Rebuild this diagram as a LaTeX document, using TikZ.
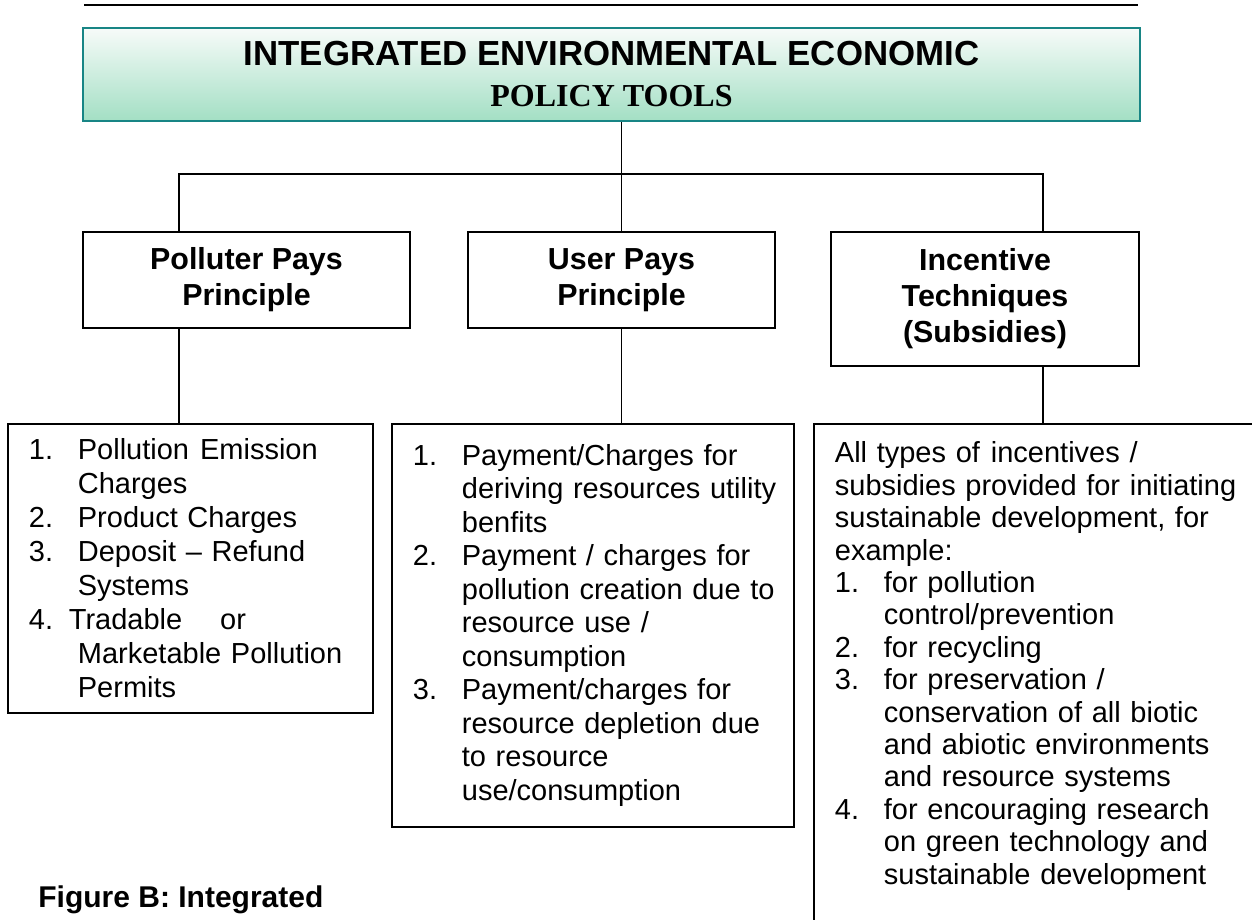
\documentclass[tikz,border=0pt]{standalone}
\usepackage{fontspec}
\setmainfont{Liberation Sans}
\newfontfamily\timesbold{Liberation Serif}
\usepackage{tikz}
\usetikzlibrary{positioning, calc}
\definecolor{MintTop}{RGB}{247, 251, 249}
\definecolor{MintBottom}{RGB}{163, 223, 196}
\definecolor{TealEdge}{RGB}{24, 133, 133}

% one pixel of the page grid
\newlength{\pxl}
\setlength{\pxl}{0.5pt}
% list lines: numbered, continued, plain
\newcommand{\numline}[2]{\hspace*{21\pxl}\makebox[49\pxl][l]{#1}#2}
\newcommand{\contline}[1]{\hspace*{70\pxl}#1}
\newcommand{\textline}[1]{\hspace*{21\pxl}#1}

\begin{document}
\begin{tikzpicture}[x=0.5pt, y=-0.5pt,
    headbox/.style={draw=TealEdge, line width=1.3pt, top color=MintTop, bottom color=MintBottom,
      align=center, minimum width=528.5pt, minimum height=46.5pt,
      font=\bfseries\fontsize{17.4pt}{20.5pt}\selectfont},
    principle/.style={draw, line width=0.9pt, align=center,
      font=\bfseries\fontsize{15.2pt}{18pt}\selectfont},
    toolist/.style={draw, line width=0.9pt, anchor=north west, align=left, inner xsep=0pt},
    link/.style={line width=0.9pt}]
    \useasboundingbox (0,0) rectangle (1252,920);
    \clip (0,0) rectangle (1252,920);

    % Rule above the chart
    \draw[line width=1.1pt] (84,5) -- (1138,5);

    % Title
    \node[headbox] (tools) at (611.5,74.5)
      {INTEGRATED ENVIRONMENTAL ECONOMIC\\{\timesbold\fontsize{16pt}{20.5pt}\selectfont POLICY TOOLS}};

    % Principles
    \node[principle, minimum width=163.5pt, minimum height=48pt] (polluter) at (246.5,280)
      {Polluter Pays\\Principle};
    \node[principle, minimum width=153.5pt, minimum height=48pt] (user) at (621.5,280)
      {User Pays\\Principle};
    \node[principle, minimum width=154pt, minimum height=67pt] (incentive) at (985,299)
      {Incentive\\Techniques\\(Subsidies)};

    % Instruments under each principle
    \node[toolist, text width=182.5pt, minimum height=144.5pt,
      font=\fontsize{14.5pt}{17pt}\selectfont] (pplist) at (7,423)
      {\numline{1.}{Pollution\hspace{11\pxl}Emission}\\
       \contline{Charges}\\
       \numline{2.}{Product Charges}\\
       \numline{3.}{Deposit -- Refund}\\
       \contline{Systems}\\
       \hspace*{21\pxl}\makebox[40\pxl][l]{4.}Tradable\hspace{38\pxl}or\\
       \contline{Marketable Pollution}\\
       \contline{Permits}};
    \node[toolist, text width=201pt, minimum height=201.5pt,
      font=\fontsize{14.5pt}{16.75pt}\selectfont] (uplist) at (391,423)
      {\numline{1.}{Payment/Charges for}\\
       \contline{deriving resources utility}\\
       \contline{benfits}\\
       \numline{2.}{Payment / charges for}\\
       \contline{pollution creation due to}\\
       \contline{resource use /}\\
       \contline{consumption}\\
       \numline{3.}{Payment/charges for}\\
       \contline{resource depletion due}\\
       \contline{to resource}\\
       \contline{use/consumption}};
    \node[toolist, text width=230pt, inner ysep=9pt, text depth=265pt,
      font=\fontsize{14.5pt}{16.2pt}\selectfont] (itlist) at (813,423)
      {\textline{All types of\hspace{11\pxl}incentives /}\\
       \textline{subsidies provided for initiating}\\
       \textline{sustainable development, for}\\
       \textline{example:}\\
       \numline{1.}{for pollution}\\
       \contline{control/prevention}\\
       \numline{2.}{for recycling}\\
       \numline{3.}{for preservation /}\\
       \contline{conservation of all biotic}\\
       \contline{and abiotic environments}\\
       \contline{and resource systems}\\
       \numline{4.}{for encouraging research}\\
       \contline{on green technology and}\\
       \contline{sustainable development}};

    % Connectors
    \coordinate (busL) at (179,174);
    \coordinate (busR) at (1043,174);
    \draw[link] (user.north |- tools.south) -- (user.north);
    \draw[link] (busL |- polluter.north) -- (busL) -- (busR) -- (busR |- incentive.north);
    \draw[link] (busL |- polluter.south) -- (busL |- pplist.north);
    \draw[link] (user.south) -- (user.south |- uplist.north);
    \draw[link] (busR |- incentive.south) -- (busR |- itlist.north);

    % Caption
    \node[anchor=base west, inner sep=0pt, font=\bfseries\fontsize{15pt}{18pt}\selectfont] (caption)
      at (38,907) {Figure B: Integrated};
\end{tikzpicture}
\end{document}
